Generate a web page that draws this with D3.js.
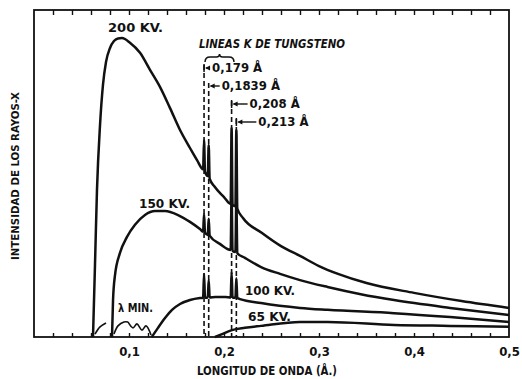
<!DOCTYPE html>
<html>
<head>
<meta charset="utf-8">
<script src="https://cdn.jsdelivr.net/npm/d3@7"></script>
<style>
  body { margin: 0; background: #fff; }
  text { font-family: "DejaVu Sans Condensed", "DejaVu Sans", sans-serif; font-weight: bold; fill: #111; }
</style>
</head>
<body>
<div id="chart"></div>
<script>
// wavelength (angstrom) vs relative intensity
const s200 = [[0.0621,0],[0.0642,22],[0.0663,45],[0.0695,64.8],[0.0726,77.1],[0.0758,84.1],[0.08,88.4],
  [0.0842,90.5],[0.0884,91.3],[0.0926,91.4],[0.101,90],[0.1116,86.9],[0.1221,81.7],[0.1326,76.5],[0.1432,70],
  [0.1537,63.3],[0.1642,57.8],[0.1716,54.1],[0.178,51.3],[0.179,60.2],[0.18,50.6],[0.1829,49.2],[0.1839,58.7],
  [0.1849,48.4],[0.19,46],[0.2,42.8],[0.207,40.7],[0.208,63.9],[0.209,40.5],[0.212,40],[0.213,63.3],[0.214,39.3],
  [0.22,36.4],[0.24,31.8],[0.26,27.8],[0.28,24.8],[0.3,21.7],[0.32,19.3],[0.35,16.5],[0.4,13.5],[0.45,11],[0.5,8.9]];

const s150 = [[0.0821,0],[0.0832,11.3],[0.0853,19],[0.0905,25.7],[0.0979,30.6],[0.1063,34.3],[0.1168,37.3],
  [0.1274,38.5],[0.1379,38.5],[0.1516,37.3],[0.1642,35.2],[0.1747,33],[0.178,32.2],[0.179,37.6],[0.18,31.9],
  [0.1829,31.2],[0.1839,36.2],[0.1849,31],[0.196,28.4],[0.207,26.6],[0.208,43.4],[0.209,26.3],[0.212,26],
  [0.213,42],[0.214,25.6],[0.222,24.2],[0.239,21.4],[0.259,19.3],[0.28,17.4],[0.309,15.3],[0.344,13.1],
  [0.379,11.3],[0.438,8.9],[0.5,6.7]];

const s100 = [[0.124,0],[0.1305,2.8],[0.1379,5.8],[0.1453,8.3],[0.1537,10.1],[0.1642,11.3],[0.1747,11.9],
  [0.178,12],[0.179,19.3],[0.18,12],[0.1829,12.1],[0.1839,17.4],[0.1849,12.1],[0.191,12.2],[0.2015,12.2],
  [0.207,12.1],[0.208,19.9],[0.209,12],[0.212,12],[0.213,18],[0.214,11.9],[0.2168,11.6],[0.239,10.4],
  [0.28,8.9],[0.309,8.3],[0.379,7.3],[0.438,6.1],[0.5,4.6]];

const s65 = [[0.1905,0],[0.198,0.9],[0.2084,2.1],[0.222,2.8],[0.2389,3.4],[0.28,4.6],[0.309,4.6],[0.379,3.7],
  [0.438,3.4],[0.5,3.1]];

const seriesLabels = ["200 KV.", "150 KV.", "100 KV.", "65 KV."];
const kLines = [0.179, 0.1839, 0.208, 0.213];
const kLabels = ["0,179 Å", "0,1839 Å", "0,208 Å", "0,213 Å"];
const xTickLabels = [0.1, 0.2, 0.3, 0.4, 0.5];

// little leader strokes pointing at each lambda min
const leadA = [[0.0642,0.9],[0.0695,3.1],[0.0758,4.3]];
const leadB = [[0.0842,0.9],[0.0884,3.4],[0.0947,4.6],[0.0989,4.6]];
const leadC = [[0.0989,4.6],[0.1042,2.8],[0.1084,4],[0.1137,2.1],[0.1179,3.4],[0.1232,0.6]];

const W = 522, H = 379;
const x = d3.scaleLinear().domain([0, 0.5]).range([34, 509]);
const y = d3.scaleLinear().domain([0, 100]).range([337, 10]);

const svg = d3.select("#chart").append("svg").attr("width", W).attr("height", H);
svg.append("rect").attr("width", W).attr("height", H).attr("fill", "#fff");

const comma = d3.formatLocale({ decimal: ",", thousands: ".", grouping: [3], currency: ["", ""] }).format(".1f");

// ticks along top and bottom
const minor = d3.range(0.02, 0.5, 0.02);
svg.append("g").attr("transform", `translate(0,${y(0)})`)
  .call(d3.axisBottom(x).tickValues(minor).tickSize(-4).tickFormat(""))
  .call(g => g.select(".domain").remove());
svg.append("g").attr("transform", `translate(0,${y(100)})`)
  .call(d3.axisTop(x).tickValues(minor).tickSize(-5).tickFormat(""))
  .call(g => g.select(".domain").remove());
svg.selectAll(".tick line").attr("stroke", "#111").attr("stroke-width", 1.4);

svg.append("g").attr("transform", `translate(0,${y(0)})`)
  .call(d3.axisBottom(x).tickValues(xTickLabels).tickSize(0).tickPadding(10).tickFormat(comma))
  .call(g => g.select(".domain").remove())
  .selectAll("text").attr("font-size", 13).attr("fill", "#111")
  .style("font-family", "'DejaVu Sans Condensed', sans-serif").style("font-weight", "bold");

// frame
svg.append("rect").attr("x", x(0)).attr("y", y(100))
  .attr("width", x(0.5) - x(0)).attr("height", y(0) - y(100))
  .attr("fill", "none").attr("stroke", "#111").attr("stroke-width", 1.8);

// dashed guides for the tungsten K lines
const rowY = [72, 90, 108, 126];
const labelDx = [8, 13, 18, 22];
svg.append("g").selectAll("line").data(kLines).join("line")
  .attr("x1", d => x(d)).attr("x2", d => x(d))
  .attr("y1", (d, i) => rowY[i] - 7).attr("y2", y(0))
  .attr("stroke", "#111").attr("stroke-width", 1.6).attr("stroke-dasharray", "5,3");

// spectra
const line = d3.line().x(d => x(d[0])).y(d => y(d[1])).curve(d3.curveMonotoneX);
svg.append("g").selectAll("path").data([s200, s150, s100, s65]).join("path")
  .attr("d", line).attr("fill", "none").attr("stroke", "#111")
  .attr("stroke-width", 2.5).attr("stroke-linejoin", "round");

// labels for each voltage
const labelPos = [[108, 32, 55], [139, 208, 51], [245, 295, 50], [248, 321, 43]];
svg.append("g").selectAll("text").data(seriesLabels).join("text")
  .attr("x", (d, i) => labelPos[i][0]).attr("y", (d, i) => labelPos[i][1])
  .attr("textLength", (d, i) => labelPos[i][2]).attr("lengthAdjust", "spacingAndGlyphs")
  .attr("font-size", 13).text(d => d);

// K line annotation
svg.append("text").attr("x", 199).attr("y", 48).attr("font-size", 12)
  .attr("font-style", "italic").attr("font-weight", "normal")
  .attr("textLength", 146).attr("lengthAdjust", "spacingAndGlyphs")
  .style("font-weight", "600")
  .text("LINEAS K DE TUNGSTENO");

const bx0 = x(kLines[0]) + 1, bx1 = x(0.2105), bm = (bx0 + bx1) / 2, by = 57;
svg.append("path")
  .attr("d", `M${bx0},${by + 5} Q${bx0},${by} ${bx0 + 5},${by} L${bm - 3},${by} Q${bm},${by} ${bm},${by - 3} Q${bm},${by} ${bm + 3},${by} L${bx1 - 5},${by} Q${bx1},${by} ${bx1},${by + 5}`)
  .attr("fill", "none").attr("stroke", "#111").attr("stroke-width", 1.5);

const ann = svg.append("g");
kLines.forEach((w, i) => {
  const lx = x(w), ty = rowY[i] - 4;
  ann.append("line").attr("x1", lx + labelDx[i] - 2).attr("x2", lx + 2).attr("y1", ty).attr("y2", ty)
    .attr("stroke", "#111").attr("stroke-width", 1.4);
  ann.append("path").attr("d", `M${lx + 1},${ty} l5,-2.5 l0,5 z`).attr("fill", "#111");
  if (i !== 1) ann.append("line").attr("x1", lx).attr("x2", lx).attr("y1", ty - 4).attr("y2", ty + 4)
    .attr("stroke", "#111").attr("stroke-width", 1.5);
  ann.append("text").attr("x", lx + labelDx[i]).attr("y", rowY[i]).attr("font-size", 13).text(kLabels[i]);
});

// lambda min
svg.append("text").attr("x", 118).attr("y", 312).attr("font-size", 12)
  .attr("textLength", 35).attr("lengthAdjust", "spacingAndGlyphs").text("λ MIN.");
const lead = d3.line().x(d => x(d[0])).y(d => y(d[1])).curve(d3.curveCatmullRom);
svg.append("g").selectAll("path").data([leadA, leadB, leadC]).join("path")
  .attr("d", lead).attr("fill", "none").attr("stroke", "#111").attr("stroke-width", 1.6);

// axis titles
svg.append("text").attr("transform", "translate(19,176) rotate(-90)")
  .attr("text-anchor", "middle").attr("font-size", 11)
  .attr("textLength", 168).attr("lengthAdjust", "spacingAndGlyphs")
  .text("INTENSIDAD DE LOS RAYOS-X");
svg.append("text").attr("x", 197).attr("y", 375).attr("font-size", 12)
  .attr("textLength", 140).attr("lengthAdjust", "spacingAndGlyphs")
  .text("LONGITUD DE ONDA (Å.)");
</script>
</body>
</html>
